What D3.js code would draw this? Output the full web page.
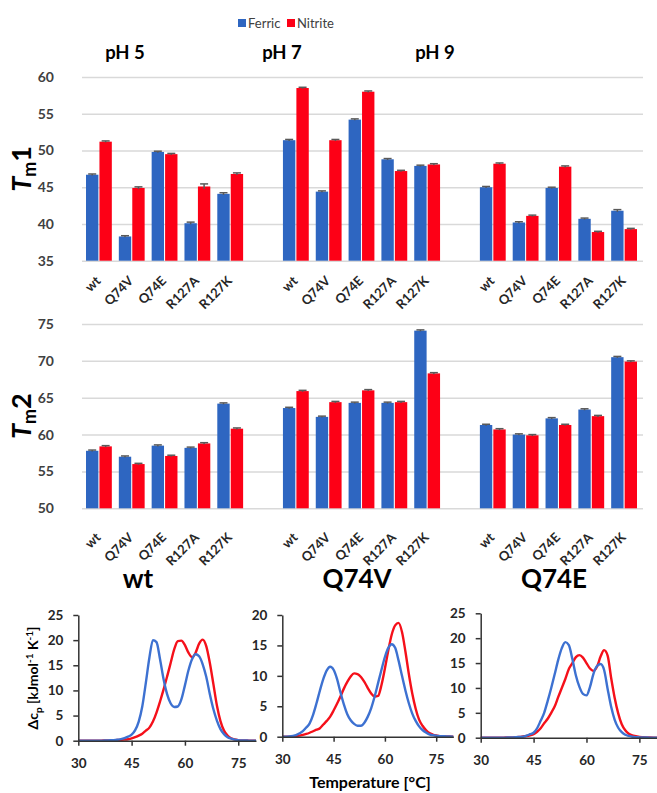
<!DOCTYPE html>
<html>
<head>
<meta charset="UTF-8">
<title></title>
<script src="https://cdnjs.cloudflare.com/ajax/libs/d3/7.8.5/d3.min.js"></script>
<style>
    body { margin: 0; background: #fff; }
    svg { font-family: Lato, "Open Sans", sans-serif; }
</style>
</head>
<body>
<script>
    // ---- bar chart data ----
    var mutants = ["wt", "Q74V", "Q74E", "R127A", "R127K"];
    var phs = ["pH 5", "pH 7", "pH 9"];
    var series = ["Ferric", "Nitrite"];
    var colors = ["#2e66c1", "#fd0016"];

    // rows: pH 5, pH 7, pH 9 ; columns: wt, Q74V, Q74E, R127A, R127K
    var tm1Ferric  = [[46.7, 38.3, 49.8, 40.1, 44.1], [51.4, 44.4, 54.2, 48.8, 47.9], [45.0, 40.2, 44.9, 40.7, 41.8]];
    var tm1Nitrite = [[51.2, 44.9, 49.5, 45.1, 46.8], [58.5, 51.4, 58.0, 47.2, 48.1], [48.2, 41.1, 47.8, 38.9, 39.3]];
    var tm1FerricErr  = [[0.1, 0.1, 0.1, 0.15, 0.15], [0.1, 0.1, 0.1, 0.1, 0.1], [0.1, 0.1, 0.1, 0.1, 0.15]];
    var tm1NitriteErr = [[0.1, 0.15, 0.1, 0.35, 0.15], [0.1, 0.1, 0.1, 0.1, 0.1], [0.1, 0.1, 0.1, 0.1, 0.1]];
    var tm1Ticks = [35, 40, 45, 50, 55, 60];

    var tm2Ferric  = [[57.8, 57.0, 58.5, 58.2, 64.2], [63.6, 62.4, 64.3, 64.3, 74.1], [61.3, 60.0, 62.2, 63.4, 70.5]];
    var tm2Nitrite = [[58.4, 56.0, 57.1, 58.8, 60.8], [65.9, 64.4, 66.0, 64.4, 68.3], [60.7, 59.9, 61.3, 62.5, 69.9]];
    var tm2FerricErr  = [[0.1, 0.1, 0.1, 0.1, 0.1], [0.1, 0.1, 0.1, 0.1, 0.1], [0.1, 0.1, 0.1, 0.1, 0.1]];
    var tm2NitriteErr = [[0.1, 0.1, 0.1, 0.1, 0.1], [0.1, 0.1, 0.1, 0.1, 0.1], [0.1, 0.1, 0.1, 0.1, 0.1]];
    var tm2Ticks = [50, 55, 60, 65, 70, 75];

    // ---- DSC curves ----
    var dscTitles = ["wt", "Q74V", "Q74E"];
    var dscTemps = [30, 32, 34, 36, 37, 38, 39, 40, 41, 42, 43, 44, 45, 46, 47, 48, 49, 50, 51, 52, 53, 54, 55,
                    56, 57, 58, 59, 60, 61, 62, 63, 64, 65, 66, 67, 68, 69, 70, 71, 72, 73, 74, 75, 76, 78, 80];
    var wtFerric = [0, 0, 0, 0, 0.02, 0.05, 0.08, 0.12, 0.2, 0.3, 0.5, 0.8, 1.2, 2.1, 3.8, 6.8, 11.5, 16.5, 20.0, 19.6, 16.2, 12.2, 9.2,
                    7.4, 6.7, 6.8, 8.2, 11.0, 14.0, 16.2, 17.2, 16.8, 15.2, 12.7, 9.3, 6.3, 4.0, 2.3, 1.3, 0.7, 0.4, 0.2, 0.1, 0.05, 0.02, 0];
    var wtNitrite = [0, 0, 0, 0.02, 0.03, 0.05, 0.07, 0.1, 0.13, 0.17, 0.22, 0.3, 0.45, 0.7, 1.0, 1.4, 2.0, 2.6, 3.8, 5.6, 7.8, 10.2, 12.8,
                     15.5, 18.2, 19.8, 19.9, 19.0, 17.5, 16.6, 17.5, 19.3, 20.1, 18.8, 15.5, 11.3, 7.0, 3.9, 2.0, 1.0, 0.5, 0.25, 0.12, 0.06, 0.02, 0];
    var q74vFerric = [0, 0.05, 0.25, 0.9, 1.5, 2.2, 3.6, 5.5, 7.6, 9.5, 10.9, 11.5, 11.0, 9.5, 7.3, 5.3, 3.7, 2.7, 2.1, 1.8, 1.8, 2.3, 3.3,
                      4.7, 6.6, 8.8, 11.0, 13.1, 14.6, 15.2, 14.6, 12.5, 10.0, 7.6, 5.5, 3.8, 2.6, 1.7, 1.1, 0.7, 0.4, 0.25, 0.15, 0.1, 0.05, 0];
    var q74vNitrite = [0, 0.02, 0.1, 0.3, 0.45, 0.65, 0.9, 1.15, 1.4, 2.0, 2.6, 3.3, 4.3, 5.4, 6.6, 7.9, 9.0, 9.9, 10.4, 10.3, 9.8, 9.0, 8.0,
                       7.1, 6.6, 6.7, 8.5, 11.2, 14.2, 16.8, 18.3, 18.7, 17.2, 14.0, 10.3, 7.1, 4.6, 2.8, 1.8, 1.1, 0.6, 0.35, 0.2, 0.1, 0.05, 0];
    var q74eFerric = [0, 0, 0, 0, 0.02, 0.05, 0.07, 0.1, 0.15, 0.2, 0.4, 0.7, 1.0, 1.9, 3.4, 5.0, 7.4, 10.0, 12.8, 15.7, 18.0, 19.2, 18.6,
                      15.8, 12.5, 10.2, 8.8, 8.5, 10.2, 12.9, 14.4, 14.8, 13.6, 9.8, 6.2, 3.6, 2.0, 1.1, 0.6, 0.35, 0.2, 0.1, 0.07, 0.05, 0.02, 0];
    var q74eNitrite = [0, 0, 0, 0.02, 0.03, 0.05, 0.07, 0.1, 0.15, 0.25, 0.35, 0.5, 0.7, 1.2, 1.9, 2.9, 3.8, 5.0, 6.3, 8.2, 10.0, 11.8, 13.8,
                       15.0, 16.2, 16.6, 16.1, 15.0, 13.9, 13.4, 14.3, 16.3, 17.6, 16.5, 12.0, 8.0, 4.9, 2.7, 1.5, 0.8, 0.45, 0.3, 0.15, 0.1, 0.05, 0];
    var dscYTicks = [[0, 5, 10, 15, 20, 25], [0, 5, 10, 15, 20], [0, 5, 10, 15, 20, 25]];
    var dscXTicks = [30, 45, 60, 75];

    var svg = d3.select("body").append("svg")
            .attr("width", 657)
            .attr("height", 793);

    // legend
    var legend = svg.append("g").attr("transform", "translate(238,19)");
    var lg = legend.selectAll("g").data(series).enter().append("g")
            .attr("transform", function (d, i) { return "translate(" + (i * 49) + ",0)"; });
    lg.append("rect").attr("width", 8).attr("height", 8)
            .attr("fill", function (d, i) { return colors[i]; });
    lg.append("text").attr("x", 10).attr("y", 8.5)
            .style("font-size", "13px").attr("fill", "#404040")
            .text(function (d) { return d; });

    // pH titles
    var titleX = [125, 282, 435];
    svg.selectAll(".phTitle").data(phs).enter().append("text")
            .attr("class", "phTitle")
            .attr("x", function (d, i) { return titleX[i]; })
            .attr("y", 59)
            .attr("text-anchor", "middle")
            .style("font-size", "18.5px").style("font-weight", "bold")
            .text(function (d) { return d; });

    // one band for each bar pair, with an empty band between the pH groups
    var slotKeys = [];
    phs.forEach(function (ph, p) {
        mutants.forEach(function (m) { slotKeys.push(ph + "|" + m); });
        if (p < phs.length - 1) slotKeys.push("gap" + p);
    });
    var xSlot = d3.scaleBand().domain(slotKeys).range([82, 640]);
    var xSub = d3.scaleBand().domain(series).range([4, xSlot.bandwidth() - 3]).paddingInner(0.08);

    function barChart(yTop, yBottom, ticks, ferric, nitrite, errF, errN, labelOff, num) {
        var y = d3.scaleLinear().domain([ticks[0], ticks[ticks.length - 1]]).range([yBottom, yTop]);
        var g = svg.append("g");

        var gy = g.append("g").attr("transform", "translate(82,0)")
                .call(d3.axisLeft(y).tickValues(ticks).tickSize(-561).tickPadding(28));
        gy.select(".domain").remove();
        gy.selectAll("line").attr("stroke", "#d9d9d9").attr("stroke-width", 1.5);
        gy.selectAll("text").attr("fill", "#404040")
                .style("font-size", "14px").style("font-weight", "bold").style("font-family", "Lato");

        var rows = [];
        phs.forEach(function (ph, p) {
            mutants.forEach(function (m, k) {
                rows.push({key: ph + "|" + m, s: "Ferric", v: ferric[p][k], e: errF[p][k]});
                rows.push({key: ph + "|" + m, s: "Nitrite", v: nitrite[p][k], e: errN[p][k]});
            });
        });

        g.append("g").selectAll("rect").data(rows).enter().append("rect")
                .attr("x", function (d) { return xSlot(d.key) + xSub(d.s); })
                .attr("y", function (d) { return y(d.v); })
                .attr("width", xSub.bandwidth())
                .attr("height", function (d) { return y(ticks[0]) - y(d.v); })
                .attr("fill", function (d) { return colors[series.indexOf(d.s)]; });

        var eb = g.append("g").selectAll("g").data(rows).enter().append("g")
                .attr("transform", function (d) { return "translate(" + (xSlot(d.key) + xSub(d.s) + xSub.bandwidth() / 2) + ",0)"; })
                .attr("stroke", "#595959").attr("stroke-width", 1.5);
        eb.append("line").attr("x1", 0).attr("x2", 0)
                .attr("y1", function (d) { return y(d.v - d.e); })
                .attr("y2", function (d) { return y(d.v + d.e); });
        eb.append("line").attr("x1", -4).attr("x2", 4)
                .attr("y1", function (d) { return y(d.v + d.e); })
                .attr("y2", function (d) { return y(d.v + d.e); });

        var gx = g.append("g").attr("transform", "translate(0," + yBottom + ")")
                .call(d3.axisBottom(xSlot)
                        .tickValues(slotKeys.filter(function (k) { return k.indexOf("|") > 0; }))
                        .tickSize(0)
                        .tickFormat(function (k) { return k.split("|")[1]; }));
        gx.select(".domain").remove();
        gx.selectAll("text")
                .attr("x", 0).attr("y", 0).attr("dy", 0)
                .attr("text-anchor", "end")
                .attr("transform", "translate(3," + labelOff + ") rotate(-45)")
                .attr("fill", "#262626")
                .style("font-size", "13px").style("font-weight", "bold").style("font-family", "Lato");

        var lab = svg.append("text")
                .attr("transform", "translate(31," + ((yTop + yBottom) / 2) + ") rotate(-90)")
                .attr("text-anchor", "middle")
                .style("font-weight", "bold");
        lab.append("tspan").style("font-size", "27px").style("font-style", "italic").text("T");
        lab.append("tspan").style("font-size", "18px").attr("dy", 5).text("m");
        lab.append("tspan").style("font-size", "27px").attr("dy", -5).text(num);
    }

    barChart(77, 260.7, tm1Ticks, tm1Ferric, tm1Nitrite, tm1FerricErr, tm1NitriteErr, 21, "1");
    barChart(324, 508.3, tm2Ticks, tm2Ferric, tm2Nitrite, tm2FerricErr, tm2NitriteErr, 30, "2");

    // ---- DSC panels ----
    var dscSeries = [[wtFerric, wtNitrite], [q74vFerric, q74vNitrite], [q74eFerric, q74eNitrite]];
    var panels = [
        {x0: 78.3, x1: 256, y0: 740.7, y1: 615, tx: 138},
        {x0: 282.3, x1: 453.3, y0: 736.7, y1: 615, tx: 357},
        {x0: 480.7, x1: 657, y0: 737.7, y1: 613.3, tx: 554}
    ];
    var curveColors = ["#3d71d1", "#f5101a"];

    panels.forEach(function (pn, i) {
        var yt = dscYTicks[i];
        var x = d3.scaleLinear().domain([30, 80]).range([pn.x0, pn.x1]);
        var y = d3.scaleLinear().domain([0, yt[yt.length - 1]]).range([pn.y0, pn.y1]);
        var g = svg.append("g");

        svg.append("text").attr("x", pn.tx).attr("y", 588)
                .attr("text-anchor", "middle")
                .style("font-size", "26px").style("font-weight", "bold")
                .text(dscTitles[i]);

        var line = d3.line()
                .x(function (d, k) { return x(dscTemps[k]); })
                .y(function (d) { return y(d); })
                .curve(d3.curveMonotoneX);
        [1, 0].forEach(function (s) {
            g.append("path").datum(dscSeries[i][s])
                    .attr("d", line)
                    .attr("fill", "none")
                    .attr("stroke", curveColors[s])
                    .attr("stroke-width", 2.4);
        });

        var gx = g.append("g").attr("transform", "translate(0," + pn.y0 + ")")
                .call(d3.axisBottom(x).tickValues(dscXTicks).tickSize(5).tickSizeOuter(0).tickPadding(13));
        var gy = g.append("g").attr("transform", "translate(" + pn.x0 + ",0)")
                .call(d3.axisLeft(y).tickValues(yt).tickSize(5).tickSizeOuter(0).tickPadding(10));
        [gx, gy].forEach(function (ax) {
            ax.selectAll("path,line").attr("stroke", "#333").attr("stroke-width", 1.5);
            ax.selectAll("text").attr("fill", "#262626")
                    .style("font-size", "13.5px").style("font-weight", "bold").style("font-family", "Lato");
        });
    });

    // y axis title of the DSC panels
    var dl = svg.append("text")
            .attr("transform", "translate(38,678) rotate(-90)")
            .attr("text-anchor", "middle")
            .style("font-size", "14px").style("font-weight", "bold");
    dl.append("tspan").text("Δc");
    dl.append("tspan").attr("dy", 4).style("font-size", "10px").text("p");
    dl.append("tspan").attr("dy", -4).text(" [kJmol");
    dl.append("tspan").attr("dy", -5).style("font-size", "10px").text("-1");
    dl.append("tspan").attr("dy", 5).text(" K");
    dl.append("tspan").attr("dy", -5).style("font-size", "10px").text("-1");
    dl.append("tspan").attr("dy", 5).text("]");

    svg.append("text").attr("x", 370).attr("y", 788)
            .attr("text-anchor", "middle")
            .style("font-size", "16px").style("font-weight", "bold")
            .text("Temperature [°C]");
</script>
</body>
</html>
